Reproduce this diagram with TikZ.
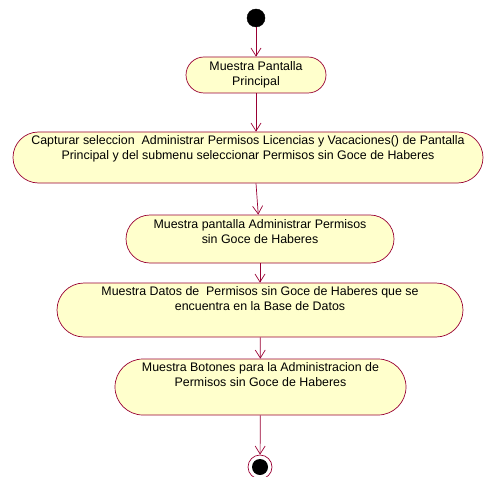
\documentclass[tikz,border=0pt]{standalone}
\usepackage{fontspec}
\setmainfont{Liberation Sans}
\usetikzlibrary{shapes.misc, arrows.meta, positioning}

\definecolor{actfill}{RGB}{255,255,204}
\definecolor{actline}{RGB}{153,0,51}

\begin{document}
\begin{tikzpicture}[x=1bp, y=-1bp]

% Define styles
\tikzstyle{activity} = [rounded rectangle, draw=actline, line width=0.7pt, fill=actfill, inner sep=0pt]
\tikzstyle{caption} = [inner sep=0pt, align=center, font=\fontsize{12.4bp}{15bp}\selectfont]
\tikzstyle{flow} = [draw=actline, line width=0.7pt, -{Straight Barb[length=8bp, width=10bp]}]

\useasboundingbox (0,0) rectangle (486,477);

% Initial and final states
\node [circle, fill=black, draw=black, minimum size=18bp, inner sep=0pt] (start) at (256,18) {};
\node [circle, draw=actline, line width=0.7pt, fill=white, minimum size=24bp, inner sep=0pt] (stop) at (260,467) {};
\node [circle, fill=black, minimum size=16bp, inner sep=0pt] (stopdot) at (stop) {};

% Place activities
\node [activity, minimum width=140bp, minimum height=36bp] (b1) at (256,75) {};
\node [activity, minimum width=470bp, minimum height=51bp] (b2) at (248,157.5) {};
\node [activity, minimum width=268bp, minimum height=48bp] (b3) at (260,239) {};
\node [activity, minimum width=406bp, minimum height=54bp] (b4) at (260,310) {};
\node [activity, minimum width=291bp, minimum height=56bp] (b5) at (260.5,387) {};

% Activity texts
\node [caption, below=5bp of b1.north] (t1) {Muestra Pantalla\\Principal};
\node [caption, below=4bp of b2.north] (t2) {Capturar seleccion\ \ Administrar Permisos Licencias y Vacaciones() de Pantalla\\Principal y del submenu seleccionar Permisos sin Goce de Haberes};
\node [caption, below=5bp of b3.north] (t3) {Muestra pantalla Administrar Permisos\\sin Goce de Haberes};
\node [caption, below=4bp of b4.north] (t4) {Muestra Datos de\ \ Permisos sin Goce de Haberes que se\\encuentra en la Base de Datos};
\node [caption, below=3.5bp of b5.north] (t5) {Muestra Botones para la Administracion de\\Permisos sin Goce de Haberes};

% Draw transitions
\path [flow] (start) -- (b1);
\path [flow] (b1) -- (b1 |- b2.north);
\path [flow] (b1 |- b2.south) -- (b3);
\path [flow] (b3) -- (b4);
\path [flow] (b4) -- (b5);
\path [flow] (b5) -- (stop);

\end{tikzpicture}
\end{document}
